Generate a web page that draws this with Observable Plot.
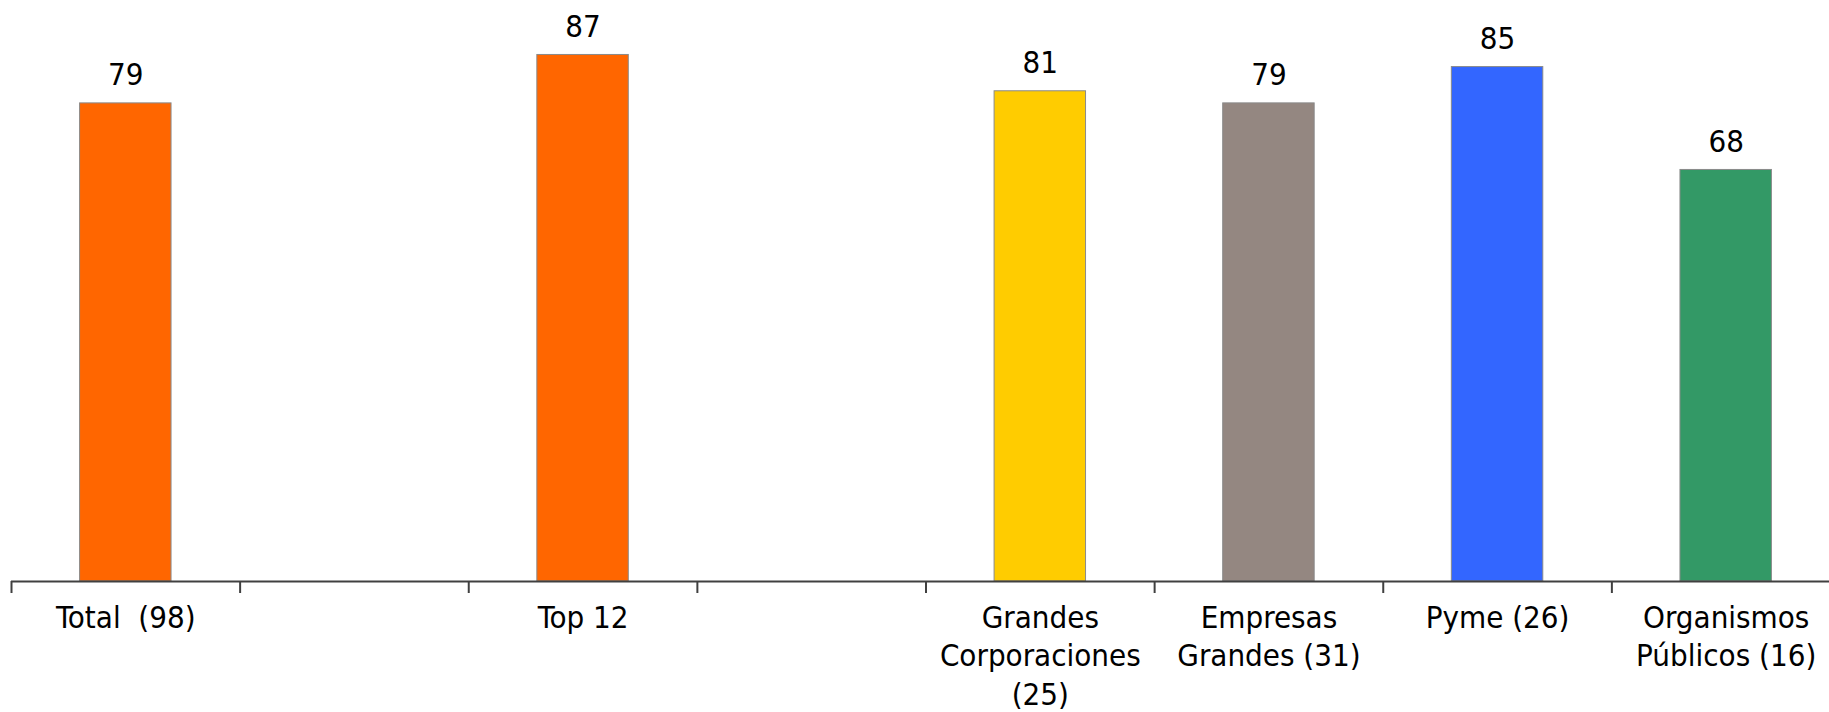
<!DOCTYPE html>
<html>
<head>
<meta charset="utf-8">
<script src="https://cdn.jsdelivr.net/npm/d3@7"></script>
<script src="https://cdn.jsdelivr.net/npm/@observablehq/plot@0.6"></script>
<style>
  html, body { margin: 0; padding: 0; background: #fff; }
  #chart svg { display: block; }
  #chart svg text { white-space: pre; }
</style>
</head>
<body>
<div id="chart"></div>
<script>
// Band keys (two empty spacer bands), their labels, values and colours
const keys = ["total", "gap1", "top12", "gap2", "gc", "eg", "pyme", "op"];
const labels = ["Total  (98)", "", "Top 12", "", "Grandes\nCorporaciones\n(25)", "Empresas\nGrandes (31)", "Pyme (26)", "Organismos\nPúblicos (16)"];
const barKeys = ["total", "top12", "gc", "eg", "pyme", "op"];
const values = [79, 87, 81, 79, 85, 68];
const colors = ["#FF6600", "#FF6600", "#FFCC00", "#948781", "#3366FF", "#339966"];

const W = 1829, H = 712;
const xStart = 11, xEnd = 1840;
const step = (xEnd - xStart) / keys.length;

const bars = barKeys.map((k, i) => ({key: k, value: values[i], color: colors[i]}));
const cats = keys.map((k, i) => ({key: k, label: labels[i]}));

const font = "'DejaVu Sans Condensed', 'DejaVu Sans', sans-serif";

const chart = Plot.plot({
  width: W,
  height: H,
  marginLeft: xStart,
  marginRight: 0,
  marginTop: 0,
  marginBottom: 131,
  style: {fontFamily: font, background: "#fff", color: "#000"},
  x: {domain: keys, range: [xStart, xEnd], paddingInner: 0.6, paddingOuter: 0.3, round: false, axis: null},
  y: {domain: [0, 96], axis: null},
  marks: [
    Plot.barY(bars, {x: "key", y: "value", fill: "color", stroke: "#8a8a8a", strokeWidth: 1}),
    Plot.text(bars, {x: "key", y: "value", text: d => String(d.value), dy: -28, lineAnchor: "middle", fontSize: 31, fill: "#000"}),
    Plot.ruleY([0], {stroke: "#404040", strokeWidth: 2}),
    Plot.axisX({ticks: keys, tickSize: 12, tickFormat: () => "", label: null, dx: -step / 2, stroke: "#404040", strokeWidth: 2}),
    Plot.text(cats, {x: "key", y: 0, text: "label", dy: 19, lineAnchor: "top", lineHeight: 1.24, fontSize: 31, fill: "#000"})
  ]
});
document.getElementById("chart").appendChild(chart);
</script>
</body>
</html>
